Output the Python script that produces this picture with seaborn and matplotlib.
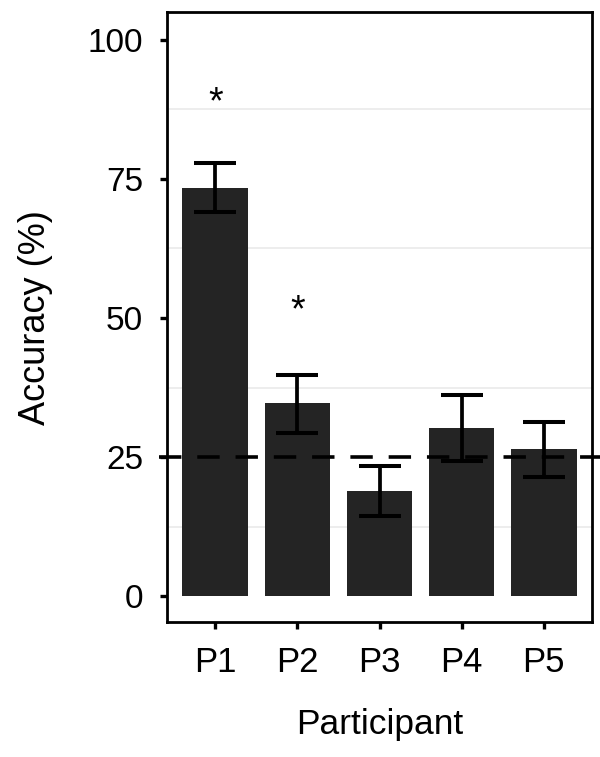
import numpy as np
import pandas as pd
import seaborn as sns
import matplotlib.pyplot as plt
from matplotlib.ticker import FixedLocator

# values
participants = ["P1", "P2", "P3", "P4", "P5"]
accuracy = [73.3, 34.7, 18.9, 30.3, 26.4]
err_low = [69.0, 29.3, 14.4, 24.3, 21.4]
err_high = [77.8, 39.8, 23.4, 36.2, 31.3]
star_label = ["*", "*", "", "", ""]
star_y = [86.8, 49.5, 0, 0, 0]
chance = 25

df = pd.DataFrame({"Participant": participants, "Accuracy": accuracy})

sns.set_theme(style="white")
plt.rcParams["font.family"] = ["Liberation Sans", "DejaVu Sans"]

fig = plt.figure(figsize=(6, 7.57), dpi=100)
ax = fig.add_axes([0.278, 0.178, 0.709, 0.806])

sns.barplot(data=df, x="Participant", y="Accuracy", color="#242424",
            saturation=1, width=0.8, errorbar=None, ax=ax, zorder=2)
for p in ax.patches:
    p.set_edgecolor("none")

lo = np.array(accuracy) - np.array(err_low)
hi = np.array(err_high) - np.array(accuracy)
ax.errorbar(np.arange(len(participants)), accuracy, yerr=[lo, hi], fmt="none",
            ecolor="black", elinewidth=2.7, capsize=15, capthick=2.9, zorder=3)

for i, (s, y) in enumerate(zip(star_label, star_y)):
    if s:
        ax.text(i, y, s, ha="center", va="baseline", fontsize=27, color="black")

# chance line runs a little past the panel on both sides
ax.plot([-0.019, 1.02], [chance, chance], transform=ax.get_yaxis_transform(),
        color="black", lw=2.6, dashes=(6.2, 4.4), clip_on=False, zorder=4)

ax.set_ylim(-4.7, 105)
ax.set_xlim(-0.59, 4.59)
ax.set_yticks([0, 25, 50, 75, 100])
ax.yaxis.set_minor_locator(FixedLocator([12.5, 37.5, 62.5, 87.5]))
ax.grid(False)
ax.grid(which="minor", axis="y", color="#EDEDED", lw=1.4, zorder=0)
ax.set_axisbelow(True)

for sp in ax.spines.values():
    sp.set_visible(True)
    sp.set_color("black")
    sp.set_linewidth(2)

ax.tick_params(axis="both", which="major", direction="out", length=5, width=2.4,
               color="black", labelcolor="black")
ax.tick_params(axis="y", which="major", labelsize=24, pad=12)
ax.tick_params(axis="x", which="major", labelsize=25, pad=12)
ax.tick_params(axis="y", which="minor", length=0)
ax.tick_params(left=True, bottom=True)

ax.set_xlabel("Participant", fontsize=25.5, labelpad=21, color="black")
ax.set_ylabel("Accuracy (%)", fontsize=26, labelpad=25, color="black")

fig.savefig("out.png", dpi=100)
